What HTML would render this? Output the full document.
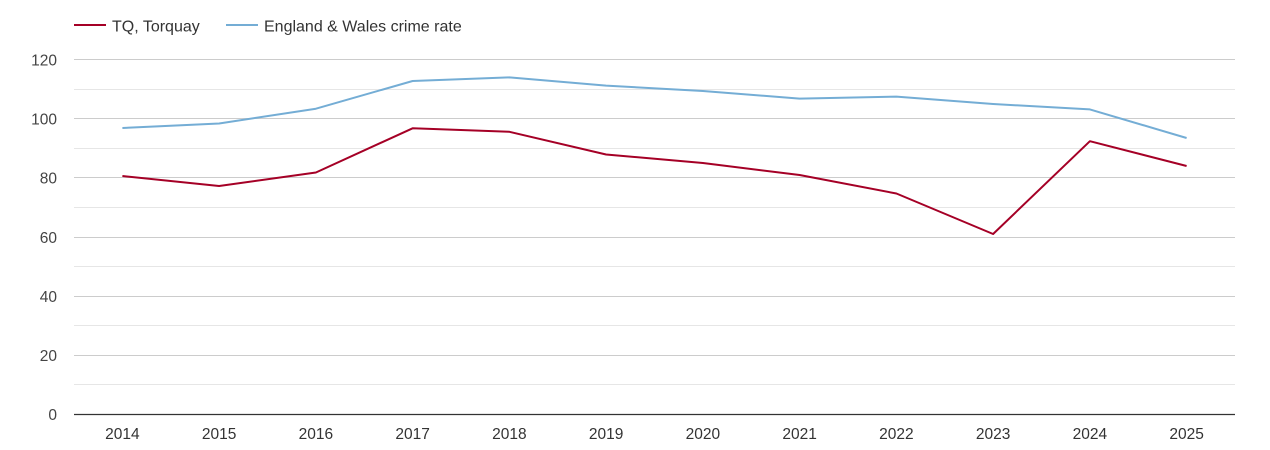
<!DOCTYPE html>
<html>
<head>
<meta charset="utf-8">
<style>
html,body{margin:0;padding:0;background:#fff;}
svg{display:block;}
text{font-family:"Liberation Sans",Arial,sans-serif;}
</style>
</head>
<body>
<svg width="1270" height="450" viewBox="0 0 1270 450" xmlns="http://www.w3.org/2000/svg">
  <!-- minor gridlines -->
  <g stroke="#e6e6e6" stroke-width="1">
    <line x1="74" y1="89.5" x2="1235" y2="89.5"/>
    <line x1="74" y1="148.5" x2="1235" y2="148.5"/>
    <line x1="74" y1="207.5" x2="1235" y2="207.5"/>
    <line x1="74" y1="266.5" x2="1235" y2="266.5"/>
    <line x1="74" y1="325.5" x2="1235" y2="325.5"/>
    <line x1="74" y1="384.5" x2="1235" y2="384.5"/>
  </g>
  <!-- major gridlines -->
  <g stroke="#cccccc" stroke-width="1">
    <line x1="74" y1="59.5" x2="1235" y2="59.5"/>
    <line x1="74" y1="118.5" x2="1235" y2="118.5"/>
    <line x1="74" y1="177.5" x2="1235" y2="177.5"/>
    <line x1="74" y1="237.5" x2="1235" y2="237.5"/>
    <line x1="74" y1="296.5" x2="1235" y2="296.5"/>
    <line x1="74" y1="355.5" x2="1235" y2="355.5"/>
  </g>
  <line x1="74" y1="414.5" x2="1235" y2="414.5" stroke="#333" stroke-width="1.2"/>

  <!-- y labels -->
  <g font-size="15.5" fill="#444" text-anchor="end">
    <text x="57" y="65.5">120</text>
    <text x="57" y="124.5">100</text>
    <text x="57" y="183.5">80</text>
    <text x="57" y="243">60</text>
    <text x="57" y="302">40</text>
    <text x="57" y="361">20</text>
    <text x="57" y="420">0</text>
  </g>

  <!-- x labels -->
  <g font-size="15.5" fill="#333" text-anchor="middle">
    <text x="122.4" y="439">2014</text>
    <text x="219.1" y="439">2015</text>
    <text x="315.9" y="439">2016</text>
    <text x="412.6" y="439">2017</text>
    <text x="509.4" y="439">2018</text>
    <text x="606.1" y="439">2019</text>
    <text x="702.9" y="439">2020</text>
    <text x="799.6" y="439">2021</text>
    <text x="896.4" y="439">2022</text>
    <text x="993.1" y="439">2023</text>
    <text x="1089.9" y="439">2024</text>
    <text x="1186.6" y="439">2025</text>
  </g>

  <!-- England & Wales -->
  <polyline fill="none" stroke="#74add5" stroke-width="2" stroke-linejoin="round"
    points="122.4,128 219.1,123.5 315.9,108.7 412.6,81 509.4,77.4 606.1,85.6 702.9,91 799.6,98.6 896.4,96.6 993.1,104 1089.9,109.4 1186.6,138"/>
  <!-- TQ -->
  <polyline fill="none" stroke="#a50026" stroke-width="2" stroke-linejoin="round"
    points="122.4,176 219.1,186 315.9,172.5 412.6,128.3 509.4,131.8 606.1,154.5 702.9,163 799.6,175 896.4,193.5 993.1,234 1089.9,141.2 1186.6,166"/>

  <!-- legend -->
  <line x1="74" y1="25" x2="106" y2="25" stroke="#a50026" stroke-width="2"/>
  <text x="112" y="31.5" font-size="16" fill="#333">TQ, Torquay</text>
  <line x1="226" y1="25" x2="258" y2="25" stroke="#74add5" stroke-width="2"/>
  <text x="264" y="31.5" font-size="16" fill="#333">England &amp; Wales crime rate</text>
</svg>
</body>
</html>
